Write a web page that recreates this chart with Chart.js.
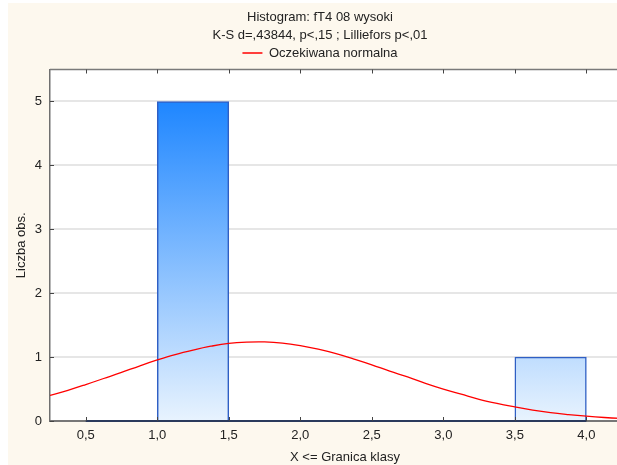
<!DOCTYPE html>
<html>
<head>
<meta charset="utf-8">
<script src="https://cdn.jsdelivr.net/npm/chart.js@4.4.0/dist/chart.umd.min.js"></script>
<style>
html, body { margin: 0; padding: 0; background: #fff; overflow: hidden; }
#tlo { position: absolute; left: 8px; top: 3px; width: 640px; height: 462px; background: #fdf8ee; }
#wykres { position: absolute; left: 0; top: 0; }
</style>
</head>
<body>
<div id="tlo"></div>
<canvas id="wykres" width="640" height="465"></canvas>
<script>
// granice klas i liczebnosci
var granice = [0.5, 1.0, 1.5, 2.0, 2.5, 3.0, 3.5, 4.0];
var liczebnosci = [0, 5, 0, 0, 0, 0, 1];

// oczekiwana normalna
var normalnaX = [0.25, 0.375, 0.5, 0.625, 0.75, 0.875, 1.0, 1.125, 1.25, 1.375, 1.5, 1.625, 1.75, 1.875,
    2.0, 2.125, 2.25, 2.375, 2.5, 2.625, 2.75, 2.875, 3.0, 3.125, 3.25, 3.375, 3.5, 3.625, 3.75, 3.875,
    4.0, 4.125, 4.25, 4.375];
var normalnaY = [0.40, 0.48, 0.57, 0.665, 0.76, 0.86, 0.955, 1.04, 1.11, 1.17, 1.215, 1.235, 1.238, 1.22,
    1.18, 1.125, 1.055, 0.97, 0.88, 0.78, 0.69, 0.59, 0.50, 0.42, 0.34, 0.275, 0.22, 0.17, 0.13, 0.10,
    0.075, 0.055, 0.04, 0.028];

var xTicks = [0.5, 1.0, 1.5, 2.0, 2.5, 3.0, 3.5, 4.0];
var xLabels = ['0,5', '1,0', '1,5', '2,0', '2,5', '3,0', '3,5', '4,0'];
var yTicks = [0, 1, 2, 3, 4, 5];
var yLabels = ['0', '1', '2', '3', '4', '5'];

Chart.defaults.font.family = "'Liberation Sans', Arial, sans-serif";
Chart.defaults.font.size = 13;
Chart.defaults.color = '#222';

var slupki = [];
for (var i = 0; i < liczebnosci.length; i++) {
    slupki.push({ x: (granice[i] + granice[i + 1]) / 2, y: liczebnosci[i] });
}
var krzywa = normalnaX.map(function (x, i) { return { x: x, y: normalnaY[i] }; });

var ramka = {
    id: 'ramka',
    beforeDraw: function (chart) {
        var a = chart.chartArea, c = chart.ctx;
        c.save();
        c.fillStyle = '#fff';
        c.fillRect(a.left, a.top, a.right - a.left, a.bottom - a.top);
        c.restore();
    },
    afterDatasetsDraw: function (chart) {
        var a = chart.chartArea, c = chart.ctx, sx = chart.scales.x, sy = chart.scales.y;
        var y0 = sy.getPixelForValue(0);
        c.save();
        // gorna krawedz
        c.strokeStyle = '#7a7a7a';
        c.lineWidth = 1.5;
        c.beginPath(); c.moveTo(a.left, a.top); c.lineTo(a.right, a.top); c.stroke();
        // podstawa klas
        c.strokeStyle = '#2b3a5c';
        c.lineWidth = 2;
        c.beginPath();
        c.moveTo(sx.getPixelForValue(granice[0]), y0);
        c.lineTo(sx.getPixelForValue(granice[granice.length - 1]), y0);
        c.stroke();
        // znaczniki do srodka
        c.lineWidth = 1;
        c.strokeStyle = '#444';
        xTicks.forEach(function (v) {
            var px = Math.round(sx.getPixelForValue(v)) + 0.5;
            c.beginPath(); c.moveTo(px, y0); c.lineTo(px, y0 - 4); c.stroke();
            c.beginPath(); c.moveTo(px, a.top); c.lineTo(px, a.top + 4); c.stroke();
        });
        yTicks.forEach(function (v) {
            var py = Math.round(sy.getPixelForValue(v)) + 0.5;
            c.beginPath(); c.moveTo(a.left, py); c.lineTo(a.left + 4, py); c.stroke();
        });
        c.restore();
    }
};

new Chart(document.getElementById('wykres'), {
    type: 'bar',
    data: {
        datasets: [{
            type: 'line',
            label: 'Oczekiwana normalna',
            data: krzywa,
            borderColor: '#ff0000',
            backgroundColor: '#ff0000',
            borderWidth: 1.3,
            pointRadius: 0,
            tension: 0.4,
            fill: false,
            order: 0
        }, {
            type: 'bar',
            label: 'Liczba obs.',
            data: slupki,
            barPercentage: 1,
            categoryPercentage: 1,
            backgroundColor: function (ctx) {
                var ch = ctx.chart;
                if (!ch.chartArea) return '#8cc4fc';
                var sy = ch.scales.y;
                var g = ch.ctx.createLinearGradient(0, sy.getPixelForValue(5), 0, sy.getPixelForValue(0));
                g.addColorStop(0, '#1e86ff');
                g.addColorStop(1, '#e8f3fe');
                return g;
            },
            borderColor: '#2f5fc4',
            borderWidth: 1.5,
            borderSkipped: 'bottom',
            order: 1
        }]
    },
    options: {
        responsive: false,
        animation: false,
        layout: { padding: 0 },
        plugins: {
            title: {
                display: true,
                text: ['Histogram: fT4 08 wysoki', 'K-S d=,43844, p<,15 ; Lilliefors p<,01'],
                font: { size: 13, weight: 'normal', lineHeight: 1.385 },
                color: '#222',
                padding: { top: 8, bottom: 0 }
            },
            legend: {
                display: true,
                labels: {
                    usePointStyle: true,
                    pointStyle: 'line',
                    pointStyleWidth: 20,
                    padding: 2.5,
                    color: '#222',
                    filter: function (item) { return item.datasetIndex === 0; }
                }
            },
            tooltip: { enabled: false }
        },
        scales: {
            x: {
                type: 'linear',
                offset: false,
                min: 0.25,
                max: 4.375,
                afterBuildTicks: function (s) { s.ticks = xTicks.map(function (v) { return { value: v }; }); },
                afterFit: function (s) { s.height = 44; },
                ticks: {
                    autoSkip: false,
                    maxRotation: 0,
                    padding: 7,
                    color: '#222',
                    callback: function (v, i) { return xLabels[i]; }
                },
                grid: { display: false, drawTicks: false },
                border: { display: true, color: '#777', width: 2 },
                title: { display: true, text: 'X <= Granica klasy', color: '#222', padding: { top: 0, bottom: 0 } }
            },
            y: {
                type: 'linear',
                min: 0,
                max: 5.5,
                afterBuildTicks: function (s) { s.ticks = yTicks.map(function (v) { return { value: v }; }); },
                afterFit: function (s) { s.width = 50; },
                ticks: {
                    padding: 8,
                    color: '#222',
                    callback: function (v, i) { return yLabels[i]; }
                },
                grid: { color: '#e6e6e6', lineWidth: 2, drawTicks: false },
                border: { display: true, color: '#707070', width: 1.5 },
                title: { display: true, text: 'Liczba obs.', color: '#222', padding: { top: 14, bottom: 0 } }
            }
        }
    },
    plugins: [ramka]
});
</script>
</body>
</html>
